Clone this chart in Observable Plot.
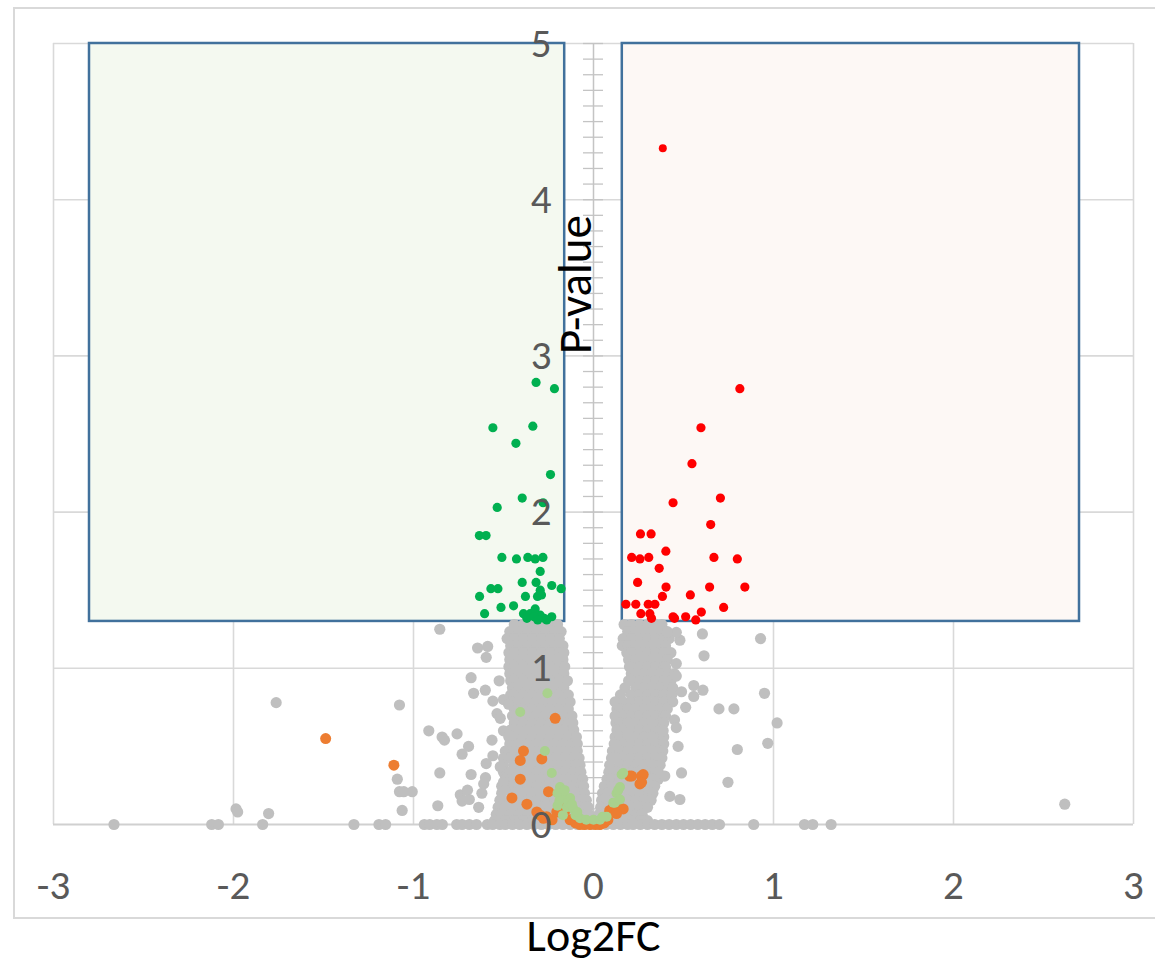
<!DOCTYPE html>
<html><head><meta charset="utf-8">
<script src="https://cdn.jsdelivr.net/npm/d3@7"></script>
<script src="https://cdn.jsdelivr.net/npm/@observablehq/plot@0.6"></script>
<style>
body{margin:0;background:#fff;overflow:hidden;}
#wrap{position:relative;width:1155px;height:964px;}
#frame{position:absolute;left:13px;top:7px;width:1160px;height:912px;border:2px solid #d9d9d9;box-sizing:border-box;}
#chart{position:absolute;left:0;top:0;}
</style></head><body>
<div id="wrap"><div id="frame"></div><div id="chart"></div></div>
<script>
// ---------- data ----------
const xTicks = [-3, -2, -1, 0, 1, 2, 3];
const yTicks = [0, 1, 2, 3, 4, 5];
const xGrid = [-3, -2, -1, 1, 2, 3];
const yGrid = [1, 2, 3, 4, 5];
const xTitle = "Log2FC";
const yTitle = "P-value";

// significance boxes (Log2FC / -log10 p thresholds)
const boxes = [
  {x1: -2.8, x2: -0.16, y1: 1.3, y2: 5, kind: "down"},
  {x1: 0.16, x2: 2.7, y1: 1.3, y2: 5, kind: "up"}
];

// dense non-significant cloud, rows of [y, [x...]]
const grayLeftRows = [
  [1.28, [-0.44,-0.39,-0.34,-0.29,-0.24,-0.20]],
  [1.235, [-0.465,-0.415,-0.365,-0.315,-0.265,-0.215,-0.18]],
  [1.19, [-0.48,-0.44,-0.39,-0.34,-0.29,-0.24,-0.19]],
  [1.145, [-0.46,-0.415,-0.365,-0.315,-0.265,-0.215,-0.17]],
  [1.10, [-0.47,-0.44,-0.39,-0.34,-0.29,-0.24,-0.19,-0.165]],
  [1.055, [-0.465,-0.415,-0.365,-0.315,-0.265,-0.215,-0.17]],
  [1.01, [-0.47,-0.44,-0.39,-0.34,-0.29,-0.24,-0.19,-0.16]],
  [0.965, [-0.465,-0.415,-0.365,-0.315,-0.265,-0.215,-0.165]],
  [0.92, [-0.46,-0.44,-0.39,-0.34,-0.29,-0.24,-0.19,-0.145]],
  [0.875, [-0.45,-0.415,-0.365,-0.315,-0.265,-0.215,-0.165]],
  [0.83, [-0.46,-0.44,-0.39,-0.34,-0.29,-0.24,-0.19,-0.14]],
  [0.785, [-0.45,-0.415,-0.365,-0.315,-0.265,-0.215,-0.165,-0.13]],
  [0.74, [-0.44,-0.39,-0.34,-0.29,-0.24,-0.19,-0.14]],
  [0.695, [-0.45,-0.415,-0.365,-0.315,-0.265,-0.215,-0.165,-0.12]],
  [0.65, [-0.44,-0.39,-0.34,-0.29,-0.24,-0.19,-0.14,-0.115]],
  [0.605, [-0.46,-0.415,-0.365,-0.315,-0.265,-0.215,-0.165,-0.11]],
  [0.56, [-0.47,-0.44,-0.39,-0.34,-0.29,-0.24,-0.19,-0.14,-0.095]],
  [0.515, [-0.465,-0.415,-0.365,-0.315,-0.265,-0.215,-0.165,-0.115,-0.09]],
  [0.47, [-0.49,-0.44,-0.39,-0.34,-0.29,-0.24,-0.19,-0.14,-0.09]],
  [0.425, [-0.50,-0.465,-0.415,-0.365,-0.315,-0.265,-0.215,-0.165,-0.115,-0.08]],
  [0.38, [-0.50,-0.44,-0.39,-0.34,-0.29,-0.24,-0.19,-0.14,-0.095,-0.075]],
  [0.335, [-0.50,-0.465,-0.415,-0.365,-0.315,-0.265,-0.215,-0.165,-0.115,-0.07]],
  [0.29, [-0.49,-0.44,-0.39,-0.34,-0.29,-0.24,-0.19,-0.14,-0.09,-0.06]],
  [0.245, [-0.51,-0.465,-0.415,-0.365,-0.315,-0.265,-0.215,-0.165,-0.115,-0.07,-0.055]],
  [0.20, [-0.51,-0.44,-0.39,-0.34,-0.29,-0.24,-0.19,-0.14,-0.09,-0.05]],
  [0.155, [-0.52,-0.465,-0.415,-0.365,-0.315,-0.265,-0.215,-0.165,-0.115,-0.07,-0.04]],
  [0.11, [-0.53,-0.49,-0.44,-0.39,-0.34,-0.29,-0.24,-0.19,-0.14,-0.09,-0.045,-0.03]],
  [0.065, [-0.54,-0.515,-0.465,-0.415,-0.365,-0.315,-0.265,-0.215,-0.165,-0.115,-0.07,-0.025]],
  [0.025, [-0.55,-0.49,-0.44,-0.39,-0.34,-0.29,-0.24,-0.19,-0.14,-0.09,-0.05,-0.015]]
];
const grayRightRows = [
  [1.28, [0.17,0.21,0.255,0.30,0.345,0.38]],
  [1.235, [0.19,0.235,0.28,0.325,0.37,0.41]],
  [1.19, [0.165,0.21,0.255,0.30,0.345,0.39,0.42]],
  [1.145, [0.16,0.19,0.235,0.28,0.325,0.37,0.40]],
  [1.10, [0.185,0.21,0.255,0.30,0.345,0.39,0.43]],
  [1.055, [0.195,0.235,0.28,0.325,0.37,0.41]],
  [1.01, [0.20,0.255,0.30,0.345,0.39,0.40]],
  [0.965, [0.21,0.235,0.28,0.325,0.37,0.415,0.45]],
  [0.92, [0.195,0.21,0.255,0.30,0.345,0.39,0.43]],
  [0.875, [0.175,0.235,0.28,0.325,0.37,0.415,0.44]],
  [0.83, [0.15,0.21,0.255,0.30,0.345,0.39,0.435]],
  [0.785, [0.12,0.165,0.21,0.255,0.30,0.345,0.39,0.44]],
  [0.74, [0.13,0.145,0.19,0.235,0.28,0.325,0.37,0.41]],
  [0.695, [0.12,0.165,0.21,0.255,0.30,0.345,0.39,0.40]],
  [0.65, [0.125,0.145,0.19,0.235,0.28,0.325,0.37,0.39]],
  [0.605, [0.13,0.165,0.21,0.255,0.30,0.345,0.37]],
  [0.56, [0.12,0.145,0.19,0.235,0.28,0.325,0.37,0.39]],
  [0.515, [0.115,0.165,0.21,0.255,0.30,0.345,0.39]],
  [0.47, [0.105,0.145,0.19,0.235,0.28,0.325,0.37,0.385]],
  [0.425, [0.10,0.125,0.165,0.21,0.255,0.30,0.345,0.38]],
  [0.38, [0.09,0.145,0.19,0.235,0.28,0.325,0.37]],
  [0.335, [0.085,0.125,0.165,0.21,0.255,0.30,0.345,0.36]],
  [0.29, [0.075,0.10,0.145,0.19,0.235,0.28,0.325,0.36]],
  [0.245, [0.06,0.10,0.125,0.165,0.21,0.255,0.30,0.34]],
  [0.20, [0.05,0.08,0.125,0.17,0.215,0.26,0.305,0.33]],
  [0.155, [0.045,0.10,0.145,0.19,0.235,0.28,0.32]],
  [0.11, [0.04,0.08,0.125,0.17,0.215,0.26,0.30]],
  [0.065, [0.03,0.055,0.10,0.145,0.19,0.235,0.27]],
  [0.025, [0.02,0.08,0.125,0.17,0.215,0.26,0.30]]
];
// genes with p-value of 1 (sit on the axis)
const grayZeroRow = [-2.664,-2.121,-2.084,-1.838,-1.331,-1.192,-1.155,-0.94,-0.91,-0.87,-0.84,-0.76,-0.73,-0.69,-0.65,
  -0.59,-0.56,-0.52,-0.49,-0.45,-0.41,-0.37,-0.33,-0.29,-0.25,-0.21,-0.17,-0.13,-0.09,-0.05,-0.01,0.03,0.07,0.11,0.15,
  0.19,0.22,0.26,0.30,0.34,0.38,0.42,0.46,0.50,0.54,0.58,0.62,0.66,0.70,0.89,1.172,1.218,1.320];
// scattered non-significant genes
const grayOutliers = [
  [-1.986,0.10],[-1.977,0.08],[-1.805,0.07],[-1.763,0.78],
  [-1.078,0.765],[-1.09,0.29],[-1.078,0.21],[-1.054,0.21],[-1.007,0.21],[-1.063,0.09],
  [-0.854,1.25],[-0.915,0.60],[-0.841,0.56],[-0.828,0.54],[-0.758,0.58],[-0.854,0.33],[-0.865,0.12],
  [-0.694,0.50],[-0.730,0.45],[-0.680,0.32],[-0.74,0.19],[-0.70,0.22],[-0.73,0.15],[-0.69,0.16],[-0.638,0.11],
  [-0.62,0.20],[-0.61,0.26],[-0.60,0.30],[-0.596,0.39],[-0.559,0.44],[-0.680,0.94],[-0.666,0.84],[-0.601,0.86],
  [-0.524,0.92],[-0.644,1.13],[-0.588,1.14],[-0.596,1.07],[-0.559,0.79],[-0.536,0.71],[-0.518,0.68],[-0.50,0.80],
  [-0.564,0.54],[-0.50,0.60],[-0.47,0.57],[-0.472,0.77],[-0.518,0.37],[-0.50,0.27],[-0.49,0.22],
  [0.605,1.22],[0.928,1.19],[0.614,1.08],[0.48,1.18],[0.46,1.23],[0.41,1.23],[0.46,1.03],[0.46,0.95],
  [0.557,0.89],[0.608,0.86],[0.557,0.82],[0.95,0.84],[0.489,0.85],[0.512,0.75],[0.697,0.74],[0.78,0.74],
  [1.02,0.65],[0.45,0.67],[0.46,0.62],[0.387,0.60],[0.968,0.52],[0.799,0.48],[0.47,0.50],[0.489,0.33],
  [0.747,0.27],[0.424,0.18],[0.48,0.16],[0.396,0.31],[2.618,0.13]
];
// fold-change-only genes (orange) and marginal genes (light green)
const orangePts = [
  [-1.488,0.55],[-1.109,0.38],[-0.213,0.68],[-0.389,0.47],[-0.407,0.41],[-0.287,0.42],[-0.407,0.29],
  [-0.453,0.17],[-0.37,0.13],[-0.25,0.21],[-0.315,0.08],[-0.296,0.06],[-0.278,0.04],[-0.26,0.05],[-0.23,0.03],
  [-0.176,0.14],[-0.204,0.08],[-0.158,0.09],[-0.13,0.03],[-0.10,0.01],[-0.075,0.0],[-0.05,0.0],[-0.02,0.0],
  [0.01,0.0],[0.036,0.0],[0.06,0.01],[0.08,0.03],[0.09,0.09],[0.11,0.11],[0.07,0.05],[0.10,0.08],[0.128,0.12],
  [0.165,0.10],[0.128,0.07],[0.20,0.31],[0.276,0.32],[0.258,0.26],[0.267,0.31],[0.212,0.31],[0.267,0.27]
];
const lightGreenPts = [
  [-0.256,0.84],[-0.407,0.72],[-0.27,0.47],[-0.232,0.33],[-0.186,0.24],[-0.167,0.18],[-0.13,0.17],
  [-0.148,0.11],[-0.112,0.10],[-0.10,0.06],[-0.075,0.04],[-0.04,0.03],[0.0,0.03],[0.036,0.03],[0.073,0.05],
  [-0.20,0.20],[-0.19,0.15],[-0.16,0.22],[-0.14,0.14],[-0.12,0.13],[-0.09,0.08],[-0.17,0.06],[-0.20,0.12],
  [0.05,0.05],[0.11,0.14],[0.119,0.14],[0.128,0.20],[0.137,0.22],[0.147,0.16],[0.147,0.24],[0.156,0.32],[0.165,0.33]
];
// significant down (green) and up (red)
const greenPts = [
  [-0.319,2.83],[-0.217,2.79],[-0.559,2.54],[-0.337,2.55],[-0.431,2.44],[-0.239,2.24],[-0.396,2.09],
  [-0.535,2.03],[-0.280,2.06],[-0.634,1.85],[-0.597,1.85],[-0.509,1.71],[-0.428,1.70],[-0.365,1.71],
  [-0.324,1.70],[-0.281,1.71],[-0.296,1.62],[-0.396,1.55],[-0.319,1.55],[-0.232,1.53],[-0.180,1.51],
  [-0.570,1.51],[-0.531,1.51],[-0.296,1.50],[-0.633,1.46],[-0.378,1.46],[-0.311,1.46],[-0.289,1.47],
  [-0.514,1.39],[-0.444,1.40],[-0.605,1.35],[-0.389,1.35],[-0.352,1.35],[-0.324,1.38],[-0.296,1.34],
  [-0.232,1.33],[-0.370,1.32],[-0.274,1.32],[-0.33,1.33],[-0.31,1.31],[-0.26,1.31]
];
const redPts = [
  [0.813,2.79],[0.597,2.54],[0.547,2.31],[0.442,2.06],[0.705,2.09],[0.651,1.92],[0.261,1.86],
  [0.320,1.86],[0.402,1.75],[0.212,1.71],[0.258,1.70],[0.307,1.71],[0.669,1.71],[0.799,1.70],[0.365,1.64],
  [0.245,1.55],[0.403,1.52],[0.645,1.52],[0.841,1.52],[0.383,1.46],[0.538,1.47],[0.180,1.41],[0.235,1.41],
  [0.304,1.41],[0.341,1.41],[0.263,1.35],[0.313,1.35],[0.723,1.39],[0.599,1.36],[0.512,1.33],[0.442,1.33],
  [0.568,1.31],[0.322,1.32],[0.45,1.32]
];
const redTop = [[0.385,4.33]];

// ---------- build ----------
const gray = [
  ...grayLeftRows.flatMap(([y, xs]) => xs.map(x => [x, y])),
  ...grayRightRows.flatMap(([y, xs]) => xs.map(x => [x, y])),
  ...grayZeroRow.map(x => [x, 0]),
  ...grayOutliers
];
const minorTicks = d3.range(0, 51).map(i => i / 10);
const tickHalf = 10 / 180;
const font = "Carlito, Lato, 'Open Sans', sans-serif";

const chart = Plot.plot({
  width: 1155,
  height: 964,
  marginLeft: 53,
  marginRight: 22,
  marginTop: 43,
  marginBottom: 140,
  x: {domain: [-3, 3], axis: null},
  y: {domain: [0, 5], axis: null},
  style: {fontFamily: font, background: "transparent", overflow: "visible"},
  marks: [
    Plot.ruleX(xGrid, {y1: 0, y2: 5, stroke: "#d9d9d9", strokeWidth: 1.6}),
    Plot.ruleY(yGrid, {x1: -3, x2: 3, stroke: "#d9d9d9", strokeWidth: 1.6}),
    Plot.ruleY([0], {x1: -3, x2: 3, stroke: "#d0d0d0", strokeWidth: 2}),
    Plot.rect(boxes, {x1: "x1", x2: "x2", y1: "y1", y2: "y2",
      fill: d => d.kind === "down" ? "#f4f9f0" : "#fdf8f5",
      stroke: "#41719c", strokeWidth: 2.5}),
    Plot.ruleX([0], {y1: 0, y2: 5, stroke: "#c4c4c4", strokeWidth: 1.5}),
    Plot.ruleY(minorTicks, {x1: -tickHalf, x2: tickHalf, stroke: "#c4c4c4", strokeWidth: 1.3}),
    Plot.dot(gray, {x: d => d[0], y: d => d[1], r: 5.6, fill: "#bfbfbf"}),
    Plot.dot(orangePts, {x: d => d[0], y: d => d[1], r: 5.5, fill: "#ed7d31"}),
    Plot.dot(lightGreenPts, {x: d => d[0], y: d => d[1], r: 5, fill: "#a9d18e"}),
    Plot.dot(greenPts, {x: d => d[0], y: d => d[1], r: 4.6, fill: "#00b050"}),
    Plot.dot(redPts, {x: d => d[0], y: d => d[1], r: 4.6, fill: "#ff0000"}),
    Plot.dot(redTop, {x: d => d[0], y: d => d[1], r: 4, fill: "#ff0000"}),
    Plot.text(yTicks, {x: 0, y: d => d, text: d => String(d), dx: -42, textAnchor: "end",
      fontSize: 41, fill: "#595959"}),
    Plot.text(xTicks, {x: d => d, y: 0, text: d => String(d), dy: 61,
      fontSize: 41, fill: "#595959"}),
    Plot.text([xTitle], {frameAnchor: "bottom", dy: 126, fontSize: 46, fill: "#000"}),
    Plot.text([yTitle], {frameAnchor: "top", dx: -36, dy: 241, rotate: -90, fontSize: 47, fill: "#000"})
  ]
});
document.getElementById("chart").appendChild(chart);
</script>
</body></html>
